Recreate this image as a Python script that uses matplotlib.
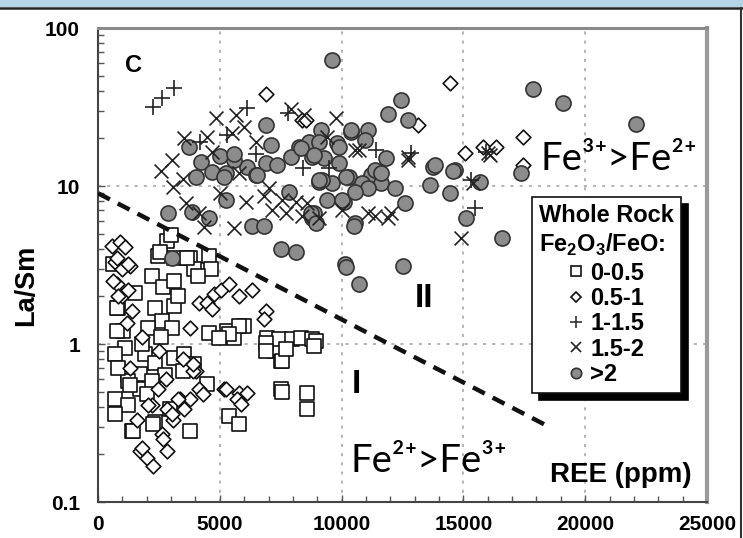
import matplotlib
matplotlib.use("Agg")
import matplotlib.pyplot as plt
from matplotlib.lines import Line2D
from matplotlib.patches import Rectangle

# ---------- data (REE ppm, La/Sm) ----------

sq_x = [2820, 2450, 3140, 3760, 4570, 4650, 3960, 2200, 2650, 3140, 2330, 3140, 820, 2610,
        2040, 3020, 1020, 4570, 5310, 6000, 5590, 1100, 1920, 2330, 3140, 3550, 3960, 1220,
        1710, 2730, 3470, 1220, 1710, 2200, 4490, 690, 1220, 2330, 1390, 5390, 5800, 7510,
        6940, 7630, 7220, 7510, 690, 820, 780, 610, 780, 1430, 3760, 2240, 690, 2940, 7550,
        8570, 8570, 7300, 7550, 7430, 7960, 8330, 8780, 6900, 6900, 7710, 5800, 5390, 4980,
        8940, 8860, 2530, 3670, 3000, 1500, 1800, 2600, 3300, 4100, 1300, 2000]
sq_y = [4.5, 3.6, 3.5, 3.5, 3.6, 3.0, 3.0, 2.7, 2.3, 2.5, 1.7, 1.75, 1.7, 1.4,
        1.27, 1.27, 1.21, 1.17, 1.21, 1.3, 1.09, 0.94, 0.86, 0.76, 0.81, 0.86, 0.75, 0.64,
        0.65, 0.64, 0.67, 0.58, 0.52, 0.58, 0.56, 0.45, 0.41, 0.32, 0.28, 0.35, 0.31, 0.52,
        1.09, 1.04, 0.9, 0.78, 0.86, 0.70, 1.2, 3.2, 1.7, 0.28, 0.28, 0.31, 0.36, 0.39, 0.5,
        0.49, 0.39, 0.94, 0.78, 1.07, 1.07, 1.09, 1.07, 1.01, 0.9, 0.93, 1.3, 1.16, 1.09,
        1.04, 0.97, 3.8, 3.5, 4.9, 2.1, 1.0, 1.1, 2.0, 2.7, 0.55, 0.48]

dia_x = [6900, 8370, 14450, 17430, 15060, 15800, 16330, 13140, 17430, 8530,
         780, 690, 1310, 980, 1390, 1180, 3760, 4160, 4490, 4780, 5060, 5390, 4690, 5800,
         6330, 6900, 6820, 4040, 4160, 5180, 5800, 6120, 2200, 2820, 3350, 3060, 2610, 2820,
         1710, 2000, 2240, 3550, 3760, 4290, 570, 900, 1100, 780, 980, 1220, 610, 1220, 820,
         3880, 5260, 5710, 5880, 2450, 2040, 3270, 3020, 1590, 2650, 1800, 1800, 2500, 3500,
         1300, 2800, 3900]
dia_y = [38, 26.3, 45, 20.5, 16.2, 17.7, 17.7, 24.5, 13.6, 26.3,
         2.4, 3.3, 3.1, 2.0, 1.62, 1.36, 1.27, 1.82, 1.82, 2.08, 2.2, 2.4, 1.67, 2.0,
         2.2, 1.62, 1.44, 0.67, 0.52, 0.52, 0.49, 0.49, 0.41, 0.39, 0.45, 0.33, 0.27, 0.21,
         0.21, 0.19, 0.17, 0.39, 0.45, 0.48, 4.2, 4.4, 4.1, 3.5, 3.0, 3.2, 2.5, 2.2, 2.0,
         0.67, 0.52, 0.45, 0.42, 0.52, 0.41, 0.45, 0.36, 0.33, 0.25, 0.22, 1.1, 0.9, 0.8,
         0.7, 0.6, 0.75]

plus_x = [2240, 2610, 3140, 6120, 7800, 11400, 12860, 15300, 15470, 15920, 5300, 4200,
          6500, 8400, 9500]
plus_y = [31.8, 36.3, 42, 31, 29, 17, 16.2, 10.9, 7.3, 16.4, 21, 19, 16, 13, 13]

cross_x = [3020, 3060, 3550, 4490, 4860, 5670, 5510, 6000, 5800, 6080, 5590, 4370, 3630,
           4160, 7140, 7020, 7550, 8120, 7710, 8370, 7920, 9760, 11100, 10570, 8450, 8570,
           9060, 10000, 11390, 11920, 12730, 16000, 15390, 14900, 16080, 12730, 12040, 10700,
           6500, 5000, 3500, 4700, 2600, 6800, 9400]
cross_y = [14.6, 9.8, 20.2, 20.5, 27, 28.3, 21.7, 23.7, 12.1, 7.9, 5.4, 5.5, 7.8,
           6.7, 7.0, 9.7, 8.1, 7.9, 6.7, 6.5, 30.5, 27, 6.7, 17.0, 28.3, 7.8,
           6.3, 7.0, 6.5, 6.3, 14.6, 16.2, 10.4, 4.7, 15.8, 15.3, 6.7, 17.0,
           19, 9, 11, 16.5, 12.5, 8.7, 20.5]

circ_x = [9600, 6900, 7100, 3750, 4240, 4700, 4040, 5260, 6120, 6490, 6900, 7350, 5260,
          2860, 3840, 4570, 6330, 6820, 7510, 8120, 7840, 8240, 8650, 9140, 9060, 9800,
          10400, 11100, 10980, 9270, 9880, 10290, 9060, 9600, 10080, 9390, 8860, 10570,
          11220, 10160, 10820, 10200, 10700, 12530, 12450, 11900, 12730, 10370, 9880, 8780,
          11840, 9180, 10200, 11390, 11630, 12200, 11100, 10570, 10000, 12610, 10490, 8780,
          13760, 13630, 14650, 14450, 15670, 15100, 16570, 17350, 17840, 19100, 22080,
          13840, 14570, 11630, 5180, 5590, 6530, 7920, 8330, 8860, 9060, 8730, 8940, 3020,
          5000, 5600]
circ_y = [63, 24.5, 18.3, 17.7, 14.2, 12.3, 11.4, 12.1, 13.2, 11.8, 14.0, 13.6, 8.1,
          6.7, 6.8, 6.3, 5.6, 5.6, 4.0, 3.8, 9.2, 17.7, 19.1, 22.7, 19.1, 18.8,
          22.0, 22.7, 19.6, 15.0, 14.0, 11.4, 10.6, 10.4, 7.9, 8.1, 6.7, 5.8,
          11.8, 3.2, 10.4, 3.05, 2.4, 3.1, 35, 28.5, 26.3, 22.7, 17.7, 15.3,
          15.0, 10.9, 11.4, 12.6, 10.4, 9.7, 9.7, 9.2, 8.1, 7.8, 5.6, 6.3,
          13.2, 10.1, 12.6, 9.0, 10.6, 6.3, 4.7, 12.1, 40.9, 33.5, 24.8,
          13.6, 12.4, 12.1, 11.4, 14.6, 11.8, 15.3, 17.4, 15.8, 10.9, 6.7, 5.8, 3.5,
          15.5, 16]

boundary_x = [0, 18500]
boundary_y = [9, 0.3]

legend_labels = ["0-0.5", "0.5-1", "1-1.5", "1.5-2", ">2"]

# ---------- plot ----------

W, H = 743, 538
fig = plt.figure(figsize=(W / 100, H / 100), dpi=100)
fig.patch.set_facecolor("white")
ax = fig.add_axes([98 / W, 1 - 502 / H, 609 / W, 474 / H])

bold = dict(family="Liberation Sans", fontweight="bold")

ax.set_yscale("log")
ax.set_xlim(0, 25000)
ax.set_ylim(0.1, 100)

ax.grid(True, which="major", color="#a0a0a0", linestyle=(0, (2, 4)), linewidth=1.1)
ax.set_axisbelow(True)

ax.scatter(sq_x, sq_y, marker="s", s=92, facecolors="white", edgecolors="#111111",
           linewidths=1.2, zorder=2)
ax.scatter(dia_x, dia_y, marker="D", s=56, facecolors="white", edgecolors="#111111",
           linewidths=1.2, zorder=2)
ax.plot(boundary_x, boundary_y, color="#111111", linewidth=3.2, linestyle=(0, (3, 2)),
        zorder=3)
ax.scatter(circ_x, circ_y, marker="o", s=118, facecolors="#8c8c8c", edgecolors="#333333",
           linewidths=1.2, zorder=4)
ax.scatter(cross_x, cross_y, marker="x", s=100, color="#222222", linewidths=1.2, zorder=5)
ax.scatter(plus_x, plus_y, marker="+", s=120, color="#222222", linewidths=1.2, zorder=5)

ax.set_xticks([0, 5000, 10000, 15000, 20000, 25000])
ax.set_xticks(range(0, 25001, 1000), minor=True)
ax.set_yticks([0.1, 1, 10, 100])
ax.set_yticklabels(["0.1", "1", "10", "100"])
ax.set_xticklabels(["0", "5000", "10000", "15000", "20000", "25000"])
ax.tick_params(which="both", direction="in", top=False, right=False, color="#555555")
ax.tick_params(which="major", length=5, width=1)
ax.tick_params(which="minor", length=4, width=1)
ax.tick_params(axis="y", which="major", pad=13)
ax.tick_params(axis="x", which="major", pad=9)
for lab in ax.get_xticklabels() + ax.get_yticklabels():
    lab.set_fontproperties("Liberation Sans")
    lab.set_fontweight("bold")
    lab.set_fontsize(15)

ax.spines["left"].set_color("#444444")
ax.spines["bottom"].set_color("#444444")
ax.spines["left"].set_linewidth(1.5)
ax.spines["bottom"].set_linewidth(1.5)
ax.spines["top"].set_color("#8a8a8a")
ax.spines["top"].set_linewidth(2.2)
ax.spines["right"].set_color("#9a9a9a")
ax.spines["right"].set_linewidth(3.0)

ax.set_ylabel("La/Sm", fontsize=19.5, **bold)
ax.yaxis.set_label_coords(-0.097, 0.458)

ax.text(0.044, 0.907, "C", transform=ax.transAxes, fontsize=17, va="baseline", **bold)
ax.text(0.52, 0.411, "II", transform=ax.transAxes, fontsize=24, va="baseline", **bold)
ax.text(0.416, 0.230, "I", transform=ax.transAxes, fontsize=24, va="baseline", **bold)
ax.text(0.975, 0.042, "REE (ppm)", transform=ax.transAxes, fontsize=20, ha="right",
        va="baseline", **bold)

thin = dict(family=["Lato", "DejaVu Sans"], fontweight="normal", color="black")
ax.text(0.726, 0.700, "Fe³⁺>Fe²⁺", transform=ax.transAxes, fontsize=27.5,
        va="baseline", zorder=6, **thin)
ax.text(0.414, 0.063, "Fe²⁺>Fe³⁺", transform=ax.transAxes, fontsize=27.5,
        va="baseline", zorder=6, **thin)

# legend
styles = [
    dict(marker="s", markerfacecolor="white", markeredgecolor="#111111", markersize=6.5),
    dict(marker="D", markerfacecolor="white", markeredgecolor="#111111", markersize=5.5),
    dict(marker="+", color="#333333", markersize=8),
    dict(marker="x", color="#222222", markersize=7.5),
    dict(marker="o", markerfacecolor="#8c8c8c", markeredgecolor="#333333", markersize=7.5),
]
handles = [Line2D([], [], linestyle="none", markeredgewidth=1.2, **st) for st in styles]
leg = ax.legend(handles, legend_labels,
                title="Whole Rock\nFe$_\\mathregular{2}$O$_\\mathregular{3}$/FeO:",
                loc="upper left", bbox_to_anchor=(0.713, 0.643),
                prop=dict(family="Liberation Sans", weight="bold", size=17),
                title_fontproperties=dict(family="Liberation Sans", weight="bold", size=17),
                handlelength=0.6, handletextpad=0.3, labelspacing=0.1, borderpad=0.3,
                frameon=True, fancybox=False, edgecolor="#111111", framealpha=1,
                shadow=dict(ox=5, oy=-5, color="black", alpha=1), borderaxespad=0)
leg.get_frame().set_linewidth(1.2)
leg.set_zorder(10)
leg._legend_box.align = "center"
leg._legend_box.sep = 3

# window chrome
fig.patches.append(Rectangle((0, 1 - 7 / H), 1, 7 / H, transform=fig.transFigure,
                             facecolor="#b4d3e6", edgecolor="none"))
fig.add_artist(Line2D([0, 1], [1 - 8 / H, 1 - 8 / H], transform=fig.transFigure,
                      color="#222222", linewidth=1.8))
fig.add_artist(Line2D([741 / W, 741 / W], [0, 1 - 8 / H], transform=fig.transFigure,
                      color="#333333", linewidth=1.5))

fig.savefig("out.png", dpi=100)
